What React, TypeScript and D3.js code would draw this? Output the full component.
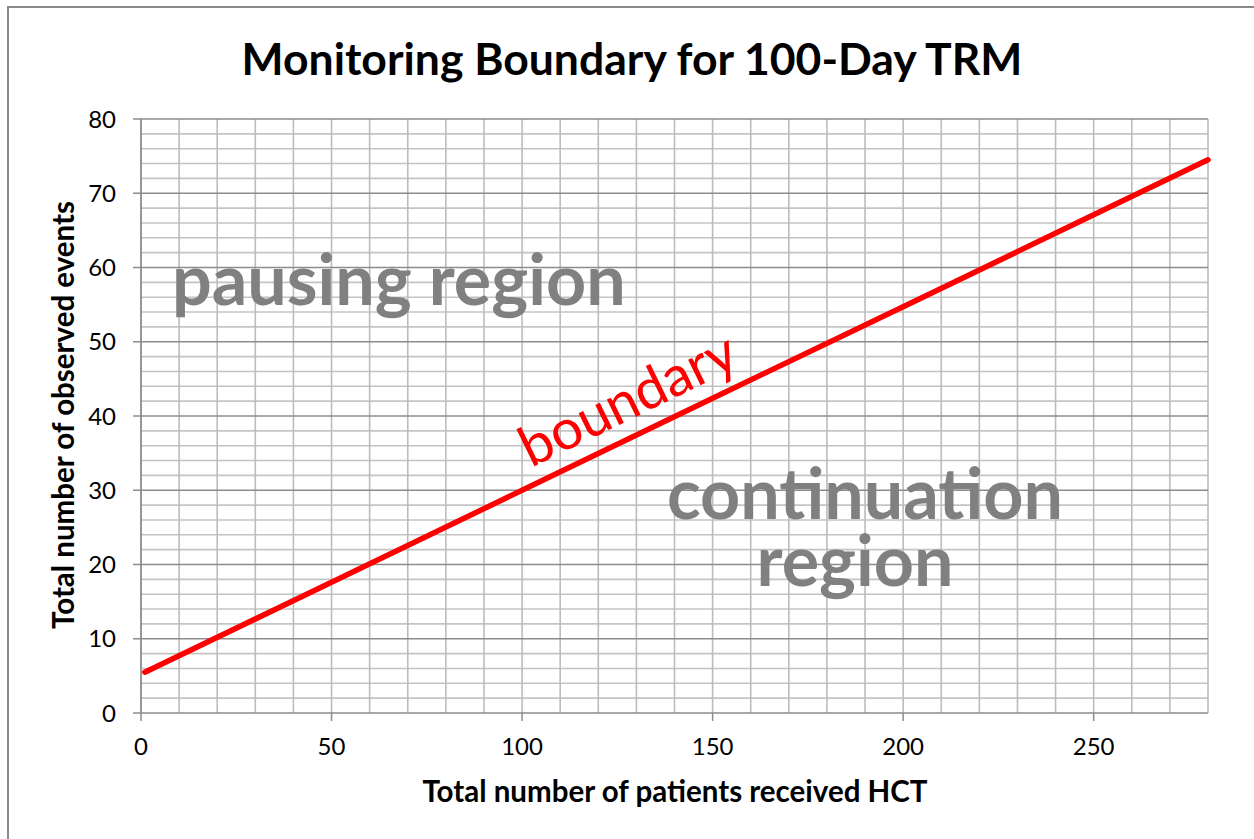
import React from 'react';
import * as d3 from 'd3';

// boundary points (patients, events)
const patients = [1, 50, 100, 150, 200, 250, 280];
const events = [5.5, 17.6, 30, 42.4, 54.7, 67.1, 74.5];
const xTicks = [0, 50, 100, 150, 200, 250];
const yTicks = [0, 10, 20, 30, 40, 50, 60, 70, 80];

const W = 1254;
const H = 839;
const margin = { left: 141, right: 1208, top: 119, bottom: 713 };

const App = () => {
  const x = d3.scaleLinear().domain([0, 280]).range([margin.left, margin.right]);
  const y = d3.scaleLinear().domain([0, 80]).range([margin.bottom, margin.top]);

  const line = d3
    .line<number>()
    .x((d, i) => x(patients[i]))
    .y((d) => y(d));

  const vGrid = d3.range(10, 281, 10);
  const hMinor = d3.range(2, 81, 2).filter((v) => v % 10 !== 0);
  const font = 'Lato, "Open Sans", sans-serif';

  return (
    <svg
      width={W}
      height={H}
      style={{ position: 'absolute', left: 0, top: 0, background: '#fff' }}
      fontFamily={font}
    >
      <rect x={8} y={7} width={1260} height={840} fill="#fff" stroke="#8a8a8a" strokeWidth={2} />
      <text x={632} y={75} textAnchor="middle" fontSize={44.5} fontWeight="bold" fill="#000">
        Monitoring Boundary for 100-Day TRM
      </text>

      {/* grid */}
      {hMinor.map((v) => (
        <line key={'h' + v} x1={margin.left} x2={margin.right} y1={y(v)} y2={y(v)} stroke="#c4c4c4" strokeWidth={1.6} />
      ))}
      {vGrid.map((v) => (
        <line key={'v' + v} x1={x(v)} x2={x(v)} y1={margin.top} y2={margin.bottom} stroke="#bcbcbc" strokeWidth={1.6} />
      ))}
      {yTicks.map((v) => (
        <line key={'hm' + v} x1={margin.left - 8} x2={margin.right} y1={y(v)} y2={y(v)} stroke="#8c8c8c" strokeWidth={1.6} />
      ))}
      <line x1={margin.left} x2={margin.left} y1={margin.top} y2={margin.bottom} stroke="#8c8c8c" strokeWidth={1.8} />
      {xTicks.map((v) => (
        <line key={'xt' + v} x1={x(v)} x2={x(v)} y1={margin.bottom} y2={margin.bottom + 8} stroke="#8c8c8c" strokeWidth={1.5} />
      ))}

      {/* tick labels */}
      {yTicks.map((v) => (
        <text key={'yl' + v} x={116} y={y(v) + 8.5} textAnchor="end" fontSize={24} fill="#000">
          {v}
        </text>
      ))}
      {xTicks.map((v) => (
        <text key={'xl' + v} x={x(v)} y={755} textAnchor="middle" fontSize={24} fill="#000">
          {v}
        </text>
      ))}

      {/* region labels */}
      <text x={172} y={305} fontSize={70} fontWeight="bold" fill="#808080">
        pausing region
      </text>
      <text textAnchor="middle" fontSize={70} fontWeight="bold" fill="#808080">
        <tspan x={865} y={519}>continuation</tspan>
        <tspan x={855} y={586}>region</tspan>
      </text>

      <path d={line(events) || ''} fill="none" stroke="#ff0000" strokeWidth={5.5} strokeLinecap="round" />

      <text transform="translate(531,468) rotate(-26)" fontSize={56} fill="#ff0000">
        boundary
      </text>

      {/* axis titles */}
      <text
        transform="translate(74,415) rotate(-90)"
        textAnchor="middle"
        fontSize={29.5}
        fontWeight="bold"
        fill="#000"
      >
        Total number of observed events
      </text>
      <text x={675} y={802} textAnchor="middle" fontSize={29.5} fontWeight="bold" fill="#000">
        Total number of patients received HCT
      </text>
    </svg>
  );
};

export default App;
